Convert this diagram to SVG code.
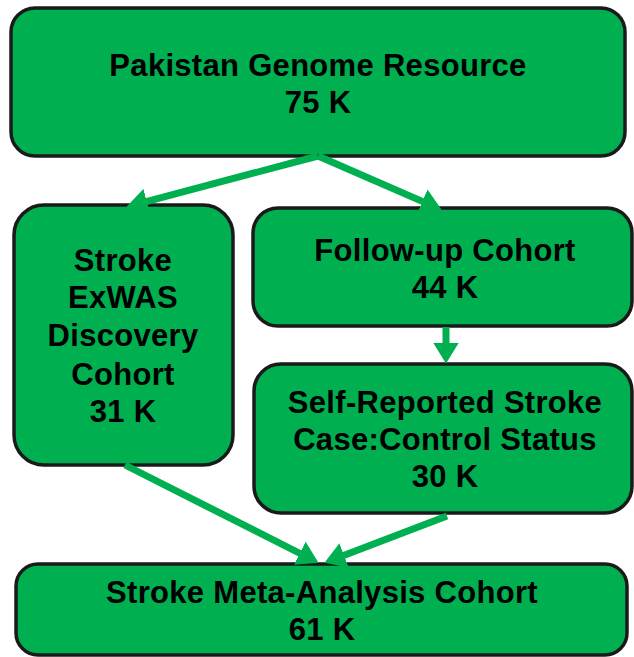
<svg xmlns="http://www.w3.org/2000/svg" width="634" height="657" viewBox="0 0 634 657">
<style>
.box{fill:#00AF50;stroke:#1a1a1a;stroke-width:3.5}
.lbl{font-family:"Liberation Sans",Arial,sans-serif;font-weight:bold;font-size:31px;letter-spacing:0.3px;fill:#000;text-anchor:middle}
.con{stroke:#00B050;stroke-width:7;fill:none}
</style>
<defs>
<marker id="ah" viewBox="0 0 21 26" refX="0.5" refY="13" markerWidth="21" markerHeight="26" markerUnits="userSpaceOnUse" orient="auto">
<path d="M0,0 L21,13 L0,26 z" fill="#00B050"/>
</marker>
</defs>
<rect width="634" height="657" fill="#fff"/>
<g id="pgr">
<rect class="box" x="11" y="8" width="614" height="148" rx="24"/>
<text class="lbl" x="318" y="76">Pakistan Genome Resource</text>
<text class="lbl" x="318" y="113">75 K</text>
</g>
<g id="exwas">
<rect class="box" x="14" y="205" width="219" height="260" rx="30"/>
<text class="lbl" x="123" y="271">Stroke</text>
<text class="lbl" x="123" y="308">ExWAS</text>
<text class="lbl" x="123" y="346">Discovery</text>
<text class="lbl" x="123" y="385">Cohort</text>
<text class="lbl" x="123" y="422">31 K</text>
</g>
<g id="followup">
<rect class="box" x="253" y="208" width="379" height="118" rx="25"/>
<text class="lbl" x="445" y="261">Follow-up Cohort</text>
<text class="lbl" x="445" y="298">44 K</text>
</g>
<g id="selfreported">
<rect class="box" x="254" y="364" width="378" height="149" rx="27"/>
<text class="lbl" x="445" y="413">Self-Reported Stroke</text>
<text class="lbl" x="445" y="450">Case:Control Status</text>
<text class="lbl" x="445" y="487">30 K</text>
</g>
<g id="meta">
<rect class="box" x="16" y="564" width="611" height="91" rx="22"/>
<text class="lbl" x="322" y="603">Stroke Meta-Analysis Cohort</text>
<text class="lbl" x="322" y="640">61 K</text>
</g>
<g id="connectors">
<line class="con" x1="318" y1="156" x2="146.3" y2="201.6" marker-end="url(#ah)"/>
<line class="con" x1="318" y1="156" x2="422.8" y2="201.6" marker-end="url(#ah)"/>
<line class="con" x1="446" y1="327" x2="446" y2="343" marker-end="url(#ah)"/>
<line class="con" x1="125" y1="465" x2="300.2" y2="553.5" marker-end="url(#ah)"/>
<line class="con" x1="447" y1="516" x2="343.6" y2="555.5" marker-end="url(#ah)"/>
</g>
</svg>
